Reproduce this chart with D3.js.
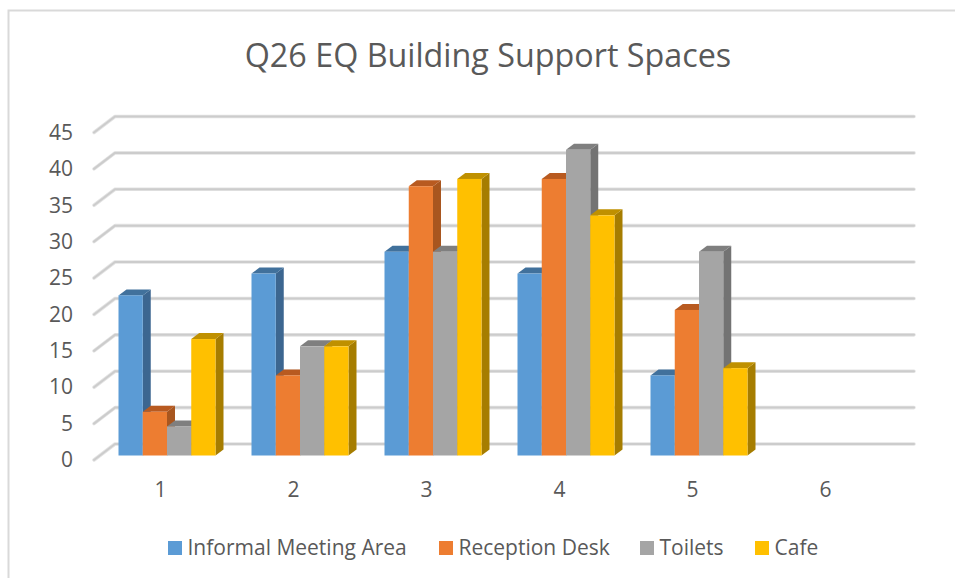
<!DOCTYPE html>
<html>
<head>
<meta charset="utf-8">
<script src="https://d3js.org/d3.v7.min.js"></script>
<style>
  html, body { margin: 0; padding: 0; background: #fff; }
  svg { display: block; }
  text { font-family: "Open Sans", sans-serif; fill: #595959; }
</style>
</head>
<body>
<svg id="chart" width="955" height="578"></svg>
<script>
var categories = ["1", "2", "3", "4", "5", "6"];
var seriesNames = ["Informal Meeting Area", "Reception Desk", "Toilets", "Cafe"];
var informalMeeting = [22, 25, 28, 25, 11, null];
var receptionDesk = [6, 11, 37, 38, 20, null];
var toilets = [4, 15, 28, 42, 28, null];
var cafe = [16, 15, 38, 33, 12, null];
var valueTicks = [0, 5, 10, 15, 20, 25, 30, 35, 40, 45];

var allSeries = [informalMeeting, receptionDesk, toilets, cafe];
var colors = [
  { front: "#5b9bd5", side: "#3c6690", top: "#41719c" },
  { front: "#ed7d31", side: "#a8561f", top: "#b85a20" },
  { front: "#a5a5a5", side: "#737373", top: "#7f7f7f" },
  { front: "#ffc000", side: "#a67d00", top: "#bf9000" }
];

var svg = d3.select("#chart");

// chart frame, only top and left edges show in the crop
svg.append("path")
  .attr("d", "M8.5,578V10.5H955")
  .attr("fill", "none")
  .attr("stroke", "#d9d9d9")
  .attr("stroke-width", 2);

// Title
svg.append("text")
  .text("Q26 EQ Building Support Spaces")
  .attr("x", 488)
  .attr("y", 67)
  .attr("text-anchor", "middle")
  .style("font-size", "32.3px");

// Scales. y is for the bars' front plane, floor and walls are offset from it
var y = d3.scaleLinear().domain([0, 45]).range([455.5, 128]);
var x = d3.scaleBand().domain(categories).range([94, 892]);
var xBar = d3.scaleBand().domain(d3.range(4)).range([24.5, 121.5]);

var wallX = 115, wallRight = 914, wallDy = -11.5, floorDy = 4.5;
var depthX = 8, depthY = -6;

// Gridlines
var grid = svg.append("g");
[["#e4e4e4", 3.6], ["#cccccc", 2]].forEach(function(style) {
  grid.selectAll(null)
    .data(valueTicks)
    .enter().append("polyline")
    .attr("points", function(d) {
      return [[94, y(d) + floorDy], [wallX, y(d) + wallDy], [wallRight, y(d) + wallDy]].join(" ");
    })
    .attr("fill", "none")
    .attr("stroke", style[0])
    .attr("stroke-width", style[1])
    .attr("stroke-linecap", "round")
    .attr("stroke-linejoin", "round");
});

// Bars
var groups = svg.selectAll("g.group")
  .data(categories)
  .enter().append("g")
  .attr("class", "group")
  .attr("transform", function(d) { return "translate(" + x(d) + ",0)"; });

groups.each(function(cat, c) {
  var group = d3.select(this);
  allSeries.forEach(function(values, s) {
    var v = values[c];
    if (v === null) return;
    var x0 = xBar(s), x1 = x0 + xBar.bandwidth();
    var yTop = y(v), yBase = y(0);
    group.append("polygon")
      .attr("points", [[x1, yTop], [x1 + depthX, yTop + depthY], [x1 + depthX, yBase + depthY], [x1, yBase]].join(" "))
      .attr("fill", colors[s].side);
    group.append("polygon")
      .attr("points", [[x0, yTop], [x0 + depthX, yTop + depthY], [x1 + depthX, yTop + depthY], [x1, yTop]].join(" "))
      .attr("fill", colors[s].top);
    group.append("rect")
      .attr("x", x0)
      .attr("y", yTop)
      .attr("width", x1 - x0)
      .attr("height", yBase - yTop)
      .attr("fill", colors[s].front);
  });
});

// Axes
var yAxis = d3.axisLeft(y).tickValues(valueTicks).tickSize(0).tickPadding(0);
var yGroup = svg.append("g")
  .attr("transform", "translate(73,4.5)")
  .call(yAxis);
yGroup.select(".domain").remove();
yGroup.selectAll("text").style("font-size", "21px").attr("fill", "#595959");

var xAxis = d3.axisBottom(x).tickSize(0).tickPadding(0);
var xGroup = svg.append("g")
  .attr("transform", "translate(0,482)")
  .call(xAxis);
xGroup.select(".domain").remove();
xGroup.selectAll("text").style("font-size", "21px").attr("fill", "#595959");

// Legend
var legendX = [168, 439, 640, 755];
var legend = svg.selectAll("g.legend")
  .data(seriesNames)
  .enter().append("g")
  .attr("class", "legend")
  .attr("transform", function(d, i) { return "translate(" + legendX[i] + ",541)"; });

legend.append("rect")
  .attr("width", 14)
  .attr("height", 14)
  .attr("fill", function(d, i) { return colors[i].front; });

legend.append("text")
  .text(function(d) { return d; })
  .attr("x", 19.5)
  .attr("y", 14)
  .style("font-size", "21px");
</script>
</body>
</html>
